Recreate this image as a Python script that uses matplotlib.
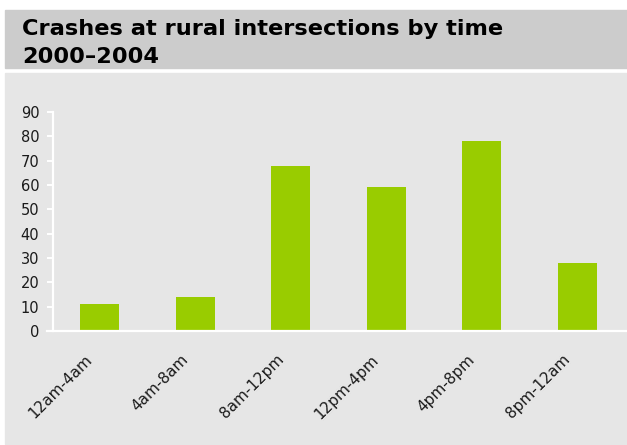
import matplotlib
matplotlib.use("Agg")
import matplotlib.pyplot as plt
import matplotlib.patches as mpatches
from matplotlib.transforms import ScaledTranslation

# data
periods = ["12am-4am", "4am-8am", "8am-12pm", "12pm-4pm", "4pm-8pm", "8pm-12am"]
crashes = [11, 14, 68, 59, 78, 28]
yticks = list(range(0, 91, 10))
title_lines = ["Crashes at rural intersections by time", "2000\u20132004"]

W, H = 627, 445
fig = plt.figure(figsize=(W / 100, H / 100), dpi=100)
fig.patch.set_facecolor("white")

# title band and chart panel
fig.patches.append(mpatches.Rectangle((5 / W, 1 - 68 / H), 1, 58 / H,
                                      transform=fig.transFigure, color="#cccccc", zorder=-5))
fig.patches.append(mpatches.Rectangle((5 / W, 1 - 444 / H), 1, 371 / H,
                                      transform=fig.transFigure, color="#e6e6e6", zorder=-5))
for i, line in enumerate(title_lines):
    fig.text(22 / W, 1 - (35 + 28 * i) / H, line, fontsize=16.2, fontweight="bold",
             ha="left", va="baseline", color="black")

ax = fig.add_axes([53 / W, (H - 331) / H, (W - 53) / W, 219 / H])
ax.set_facecolor("#e6e6e6")
x = list(range(len(periods)))
ax.bar(x, crashes, width=0.41, color="#99cc00", zorder=2)
ax.set_xlim(-0.49, 5.52)
ax.set_ylim(0, 90)
ax.set_yticks(yticks)
ax.set_xticks(x)
ax.set_xticklabels(periods, rotation=45, ha="right", rotation_mode="anchor")

for s in ["top", "right"]:
    ax.spines[s].set_visible(False)
for s in ["left", "bottom"]:
    ax.spines[s].set_color("white")
    ax.spines[s].set_linewidth(1.6)
ax.spines["bottom"].set_bounds(-0.555, 5.52)
ax.tick_params(axis="y", colors="white", labelcolor="#1a1a1a", length=4.3,
               width=1.4, pad=5.5, labelsize=10.5)
ax.tick_params(axis="x", length=0, labelcolor="#1a1a1a", labelsize=11, pad=15)

off = ScaledTranslation(-15 / 100, 0, fig.dpi_scale_trans)
for lab in ax.get_xticklabels():
    lab.set_transform(lab.get_transform() + off)

fig.savefig("out.png", dpi=100)
